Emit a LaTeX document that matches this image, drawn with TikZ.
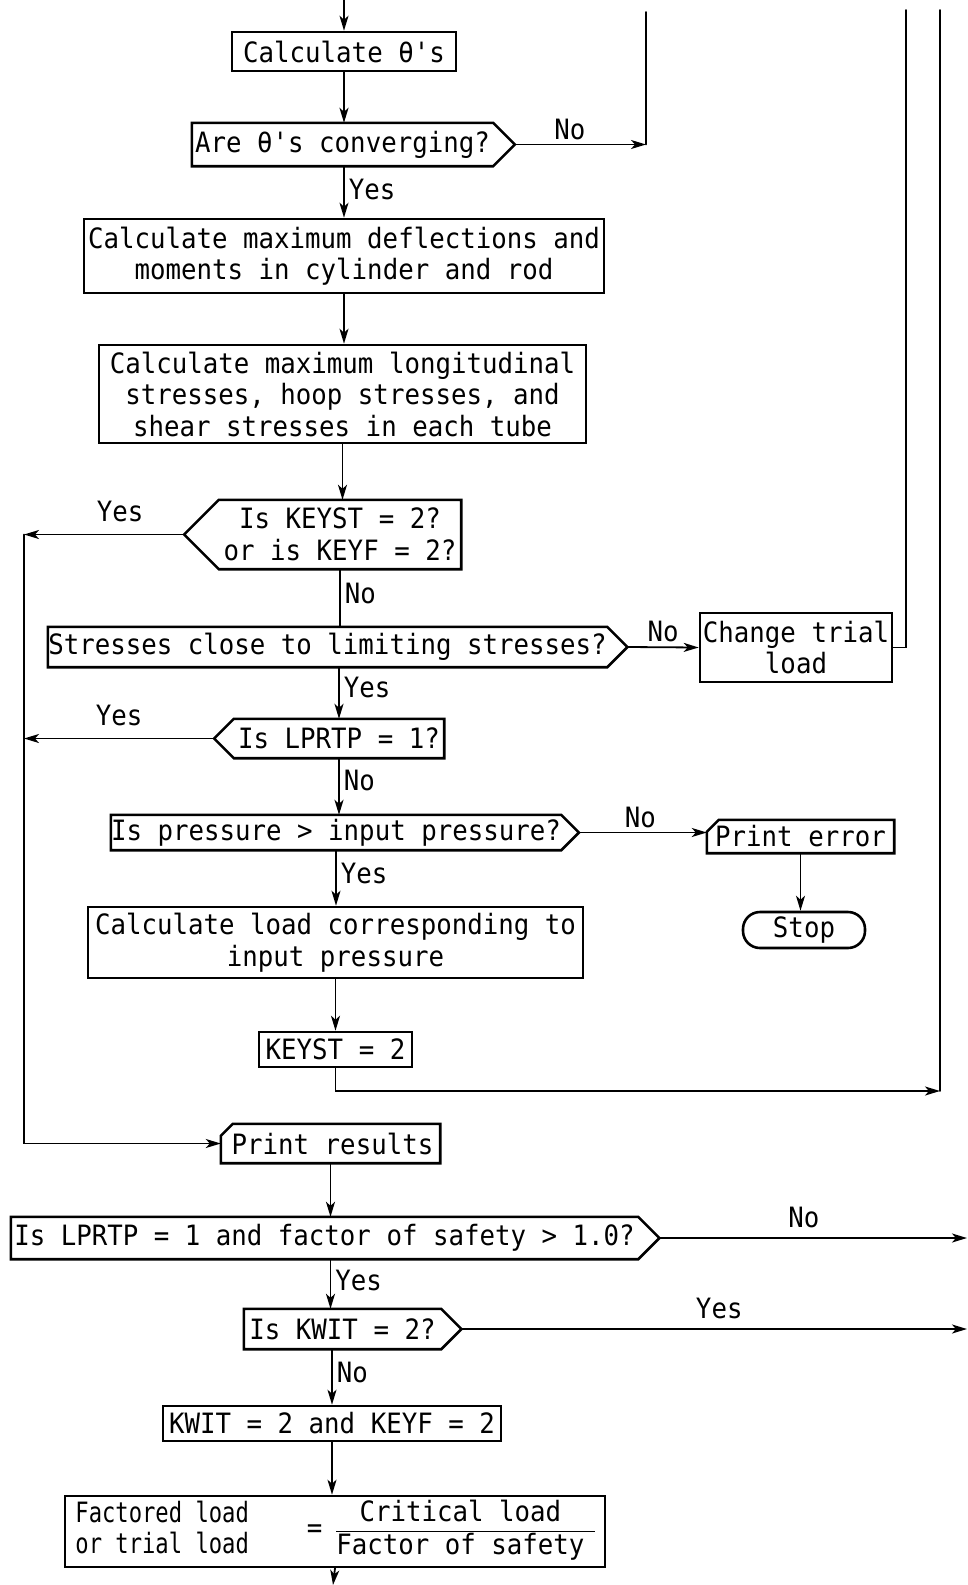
\documentclass[tikz,border=0pt]{standalone}
\usepackage{fontspec}
\setmonofont{DejaVu Sans Mono}[FakeStretch=0.92]
\usepackage{graphicx}
\usetikzlibrary{calc,arrows.meta}
\setlength{\arrayrulewidth}{1.8pt}

\tikzset{
  every node/.style={font=\ttfamily\fontsize{28}{31.5}\selectfont, inner sep=0pt},
  outline/.style={line width=2.6pt, line join=miter},
  proc/.style={draw, outline, align=center},
  ask/.style={align=center},
  printout/.style={align=center},
  flow/.style={line width=1.8pt},
  arr/.style={flow, -{Stealth[length=15pt,width=9pt,inset=4pt]}},
  lbl/.style={inner sep=4pt},
}

\begin{document}
\begin{tikzpicture}[x=1pt, y=-1pt, line cap=round]
  \useasboundingbox (0,0) rectangle (967,1585);

  % Main column
  \node[proc, minimum width=224, minimum height=39] (theta) at (344,51.5) {Calculate θ's};
  \node[ask, minimum width=301, minimum height=43] (conv) at (342.5,144.5) {Are θ's converging?};
  \node[proc, minimum width=520, minimum height=74] (defl) at (344,256)
    {Calculate maximum deflections and\\moments in cylinder and rod};
  \node[proc, minimum width=487, minimum height=98] (stress) at (342.5,394)
    {Calculate maximum longitudinal\\stresses, hoop stresses, and\\shear stresses in each tube};
  \node[ask, minimum width=242, minimum height=69] (keyst) at (340,534.5) {Is KEYST = 2?\\or is KEYF = 2?};
  \node[ask, minimum width=559, minimum height=40] (close) at (327.5,647) {Stresses close to limiting stresses?};
  \node[ask, minimum width=210, minimum height=39] (lprtp) at (339,738.5) {Is LPRTP = 1?};
  \node[ask, minimum width=450, minimum height=35] (press) at (336,832.5) {Is pressure > input pressure?};
  \node[proc, minimum width=495, minimum height=71] (loadp) at (335.5,942.5)
    {Calculate load corresponding to\\input pressure};
  \node[proc, minimum width=153, minimum height=35] (keyst2) at (335.5,1049.5) {KEYST = 2};
  \node[printout, minimum width=219, minimum height=39] (pres) at (330.5,1143.5) {\hspace{4pt}Print results};
  \node[ask, minimum width=627, minimum height=42] (safe) at (324.5,1238) {Is LPRTP = 1 and factor of safety > 1.0?};
  \node[ask, minimum width=197, minimum height=40] (kwit) at (342.5,1329) {Is KWIT = 2?};
  \node[proc, minimum width=338, minimum height=35] (kwit2) at (332,1423.5) {KWIT = 2 and KEYF = 2};
  \node[proc, minimum width=540, minimum height=71] (factor) at (335,1531.5)
    {\scalebox{0.86}[1]{\begin{tabular}{@{}l@{}}Factored load\\or trial load\end{tabular}}%
     \hspace{58pt}=\hspace{14pt}%
     \begin{tabular}{@{}c@{\hspace{10pt}}}Critical load\\\hline Factor of safety\end{tabular}};

  % Side branch
  \node[proc, minimum width=192, minimum height=69] (change) at (796,647.5) {Change trial\\load};
  \node[printout, minimum width=187, minimum height=33] (perr) at (800.5,836.5) {Print error};
  \node[draw, outline, rounded corners=17pt, minimum width=122, minimum height=36] (stop) at (804,930) {Stop};

  % Decision outlines (point on the exit side)
  \foreach \nd in {conv,close,press,safe,kwit}
    \draw[outline] let \p1=($(\nd.north)-(\nd.south)$) in
      (\nd.north west) -- (\nd.north east) -- ($(\nd.east)+(0.5*\y1,0)$) coordinate (\nd-tip)
      -- (\nd.south east) -- (\nd.south west) -- cycle;
  \foreach \nd in {keyst,lprtp}
    \draw[outline] let \p1=($(\nd.north)-(\nd.south)$) in
      (\nd.north east) -- (\nd.north west) -- ($(\nd.west)-(0.5*\y1,0)$) coordinate (\nd-tip)
      -- (\nd.south west) -- (\nd.south east) -- cycle;

  % Print outlines, cut corner
  \foreach \nd in {pres,perr}
    \draw[outline] ($(\nd.north west)+(12,0)$) -- (\nd.north east) -- (\nd.south east)
      -- (\nd.south west) -- ($(\nd.north west)+(0,12)$) -- cycle;

  % Loose ends
  \coordinate (in) at (344,0);
  \coordinate (out) at (333,1585);
  \coordinate (lft) at (24,0);
  \coordinate (rim) at (967,0);
  \coordinate (loop1) at (646,12);
  \coordinate (loop2) at (906,10);
  \coordinate (loop3) at (940,10);
  \coordinate (back) at (940,1091);

  % Main flow
  \draw[arr] (in) -- (theta.north);
  \draw[arr] (theta.south) -- (theta.south |- conv.north);
  \draw[arr] (defl.north |- conv.south) -- (defl.north) node[lbl, pos=0.45, right] {Yes};
  \draw[arr] (defl.south) -- (defl.south |- stress.north);
  \draw[arr] (stress.south) -- (stress.south |- keyst.north);
  \draw[flow] (keyst.south) -- (keyst.south |- close.north) node[lbl, pos=0.42, right] {No};
  \draw[arr] (lprtp.north |- close.south) -- (lprtp.north) node[lbl, pos=0.4, right] {Yes};
  \draw[arr] (lprtp.south) -- (lprtp.south |- press.north) node[lbl, pos=0.4, right] {No};
  \draw[arr] (press.south) -- (press.south |- loadp.north) node[lbl, pos=0.42, right] {Yes};
  \draw[arr] (loadp.south) -- (keyst2.north);
  \draw[arr] (pres.south) -- (pres.south |- safe.north);
  \draw[arr] (pres.south |- safe.south) -- (pres.south |- kwit.north) node[lbl, pos=0.42, right] {Yes};
  \draw[arr] (kwit2.north |- kwit.south) -- (kwit2.north) node[lbl, pos=0.42, right] {No};
  \draw[arr] (kwit2.south) -- (kwit2.south |- factor.north);
  \draw[arr] (factor.south) -- (out);

  % Right branches and loops
  \draw[arr] (conv-tip) -- (conv-tip -| loop1) node[lbl, pos=0.42, above] {No};
  \draw[flow] (loop1) -- (loop1 |- conv-tip);
  \draw[arr] (close-tip) -- (change.west) node[lbl, midway, above] {No};
  \draw[flow] (change.east) -| (loop2);
  \draw[arr] (press-tip) -- (press-tip -| perr.west) node[lbl, pos=0.48, above] {No};
  \draw[arr] (perr.south) -- (perr.south |- stop.north);
  \draw[arr] (keyst2.south) |- (back);
  \draw[flow] (loop3) -- (back);
  \draw[arr] (safe-tip) -- (safe-tip -| rim) node[lbl, pos=0.47, above=5pt] {No};
  \draw[arr] (kwit-tip) -- (kwit-tip -| rim) node[lbl, pos=0.51, above=5pt] {Yes};

  % Left branches
  \draw[arr] (keyst-tip) -- (keyst-tip -| lft) node[lbl, pos=0.4, above=8pt] {Yes};
  \draw[arr] (lprtp-tip) -- (lprtp-tip -| lft) node[lbl, midway, above=8pt] {Yes};
  \draw[arr] (keyst-tip -| lft) |- (pres.west);
\end{tikzpicture}
\end{document}
